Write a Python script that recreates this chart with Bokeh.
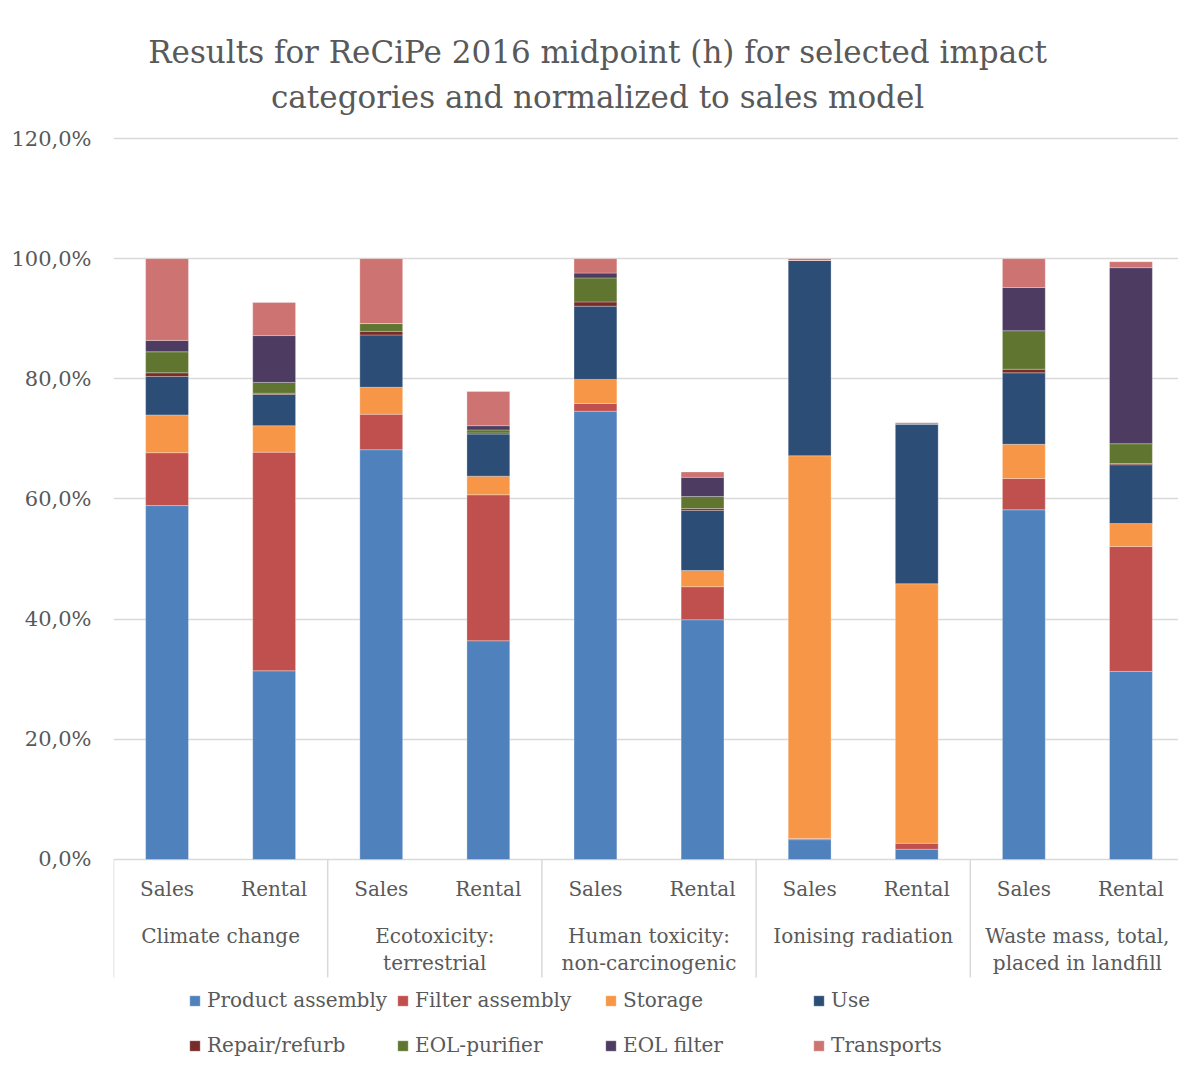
from bokeh.plotting import figure
from bokeh.models import ColumnDataSource, FixedTicker, Legend, LegendItem, Range1d
from bokeh.embed import file_html
from bokeh.resources import INLINE
from bokeh.core.properties import value

title_lines = ["Results for ReCiPe 2016 midpoint (h) for selected impact",
               "categories and normalized to sales model"]
groups = ["Climate change", "Ecotoxicity:\nterrestrial", "Human toxicity:\nnon-carcinogenic",
          "Ionising radiation", "Waste mass, total,\nplaced in landfill"]
models = ["Sales", "Rental"]
components = ["Product assembly", "Filter assembly", "Storage", "Use",
              "Repair/refurb", "EOL-purifier", "EOL filter", "Transports"]
colors = ["#4F81BD", "#C0504D", "#F79646", "#2C4D75",
          "#772C2A", "#5F7530", "#4D3B62", "#CD7371"]

# bar order: for each group -> Sales, Rental  (values in %)
product_assembly = [58.9, 31.4, 68.2, 36.4, 74.6, 39.9, 3.3, 1.7, 58.2, 31.3]
filter_assembly  = [8.8, 36.4, 5.9, 24.3, 1.3, 5.5, 0.2, 1.0, 5.2, 20.8]
storage          = [6.3, 4.4, 4.5, 3.1, 4.0, 2.7, 63.7, 43.2, 5.7, 3.8]
use              = [6.4, 5.2, 8.7, 7.0, 12.2, 10.0, 32.5, 26.6, 11.9, 9.8]
repair_refurb    = [0.6, 0.2, 0.6, 0.2, 0.7, 0.3, 0.0, 0.0, 0.6, 0.2]
eol_purifier     = [3.5, 1.8, 1.3, 0.5, 4.0, 2.0, 0.0, 0.0, 6.4, 3.3]
eol_filter       = [1.9, 7.8, 0.0, 0.7, 0.8, 3.2, 0.0, 0.0, 7.2, 29.3]
transports       = [13.6, 5.5, 10.8, 5.7, 2.4, 0.9, 0.3, 0.2, 4.8, 1.0]

y_ticks = [0, 20, 40, 60, 80, 100, 120]

series = [product_assembly, filter_assembly, storage, use,
          repair_refurb, eol_purifier, eol_filter, transports]

FONT = "DejaVu Serif"
TXT = "#595959"
GRID = "#D9D9D9"

n_sub = len(models)
xs = [gi * n_sub + si + 0.5 for gi in range(len(groups)) for si in range(n_sub)]
data = {"x": xs}
keys = []
for name, vals in zip(components, series):
    k = name.replace(" ", "_").replace("/", "_").replace("-", "_")
    keys.append(k)
    data[k] = vals
source = ColumnDataSource(data)

p = figure(width=1178, height=1071, output_backend="svg", toolbar_location=None,
           x_range=Range1d(0, 9.944), y_range=Range1d(-35.29, 142.97),
           x_axis_location=None, min_border_left=113, min_border_right=0,
           min_border_top=0, min_border_bottom=0, tools="")
p.outline_line_color = None
p.background_fill_color = "white"
p.border_fill_color = "white"
p.xgrid.visible = False

p.yaxis.ticker = FixedTicker(ticks=y_ticks)
p.yaxis.major_label_overrides = {t: f"{t:.1f}%".replace(".", ",") for t in y_ticks}
p.yaxis.axis_line_color = None
p.yaxis.major_tick_line_color = None
p.yaxis.minor_tick_line_color = None
p.yaxis.major_label_standoff = 16
p.yaxis.major_label_text_font = FONT
p.yaxis.major_label_text_font_size = "21px"
p.yaxis.major_label_text_color = TXT
p.ygrid.grid_line_color = GRID
p.ygrid.grid_line_width = 1.5

renderers = p.vbar_stack(keys, x="x", width=0.40, source=source, color=colors,
                         line_color="white", line_alpha=0.35, line_width=0.8)

# group separators on the category axis
seps = [gi * n_sub for gi in range(len(groups))]
p.segment(x0=seps, y0=[0] * len(seps), x1=seps, y1=[-19.64] * len(seps),
          line_color=GRID, line_width=1.5)

# sub-category labels
p.text(x=xs, y=[-4.99] * len(xs), text=[m for _ in groups for m in models],
       text_font=value(FONT), text_font_size="20px", text_color=TXT,
       text_align="center", text_baseline="middle")

# group labels (possibly two lines)
gx, gy, gt = [], [], []
for gi, g in enumerate(groups):
    for li, line in enumerate(g.split("\n")):
        gx.append(gi * n_sub + n_sub / 2)
        gy.append(-12.82 - 4.49 * li)
        gt.append(line)
p.text(x=gx, y=gy, text=gt, text_font=value(FONT), text_font_size="20px",
       text_color=TXT, text_align="center", text_baseline="middle")

# title
p.text(x=[4.52, 4.52], y=[134.32, 126.83], text=title_lines, text_font=value(FONT),
       text_font_size="31px", text_color=TXT, text_align="center", text_baseline="middle")

legend = Legend(items=[LegendItem(label=c, renderers=[r]) for c, r in zip(components, renderers)],
                orientation="horizontal", ncols=4, location=(75, 8),
                glyph_width=13, glyph_height=13, label_standoff=6, label_width=180,
                label_height=36, spacing=9, padding=0, margin=0,
                border_line_color=None, background_fill_alpha=0,
                label_text_font=FONT, label_text_font_size="20px", label_text_color=TXT)
p.add_layout(legend, "center")

open("out.html", "w").write(file_html(p, INLINE))
